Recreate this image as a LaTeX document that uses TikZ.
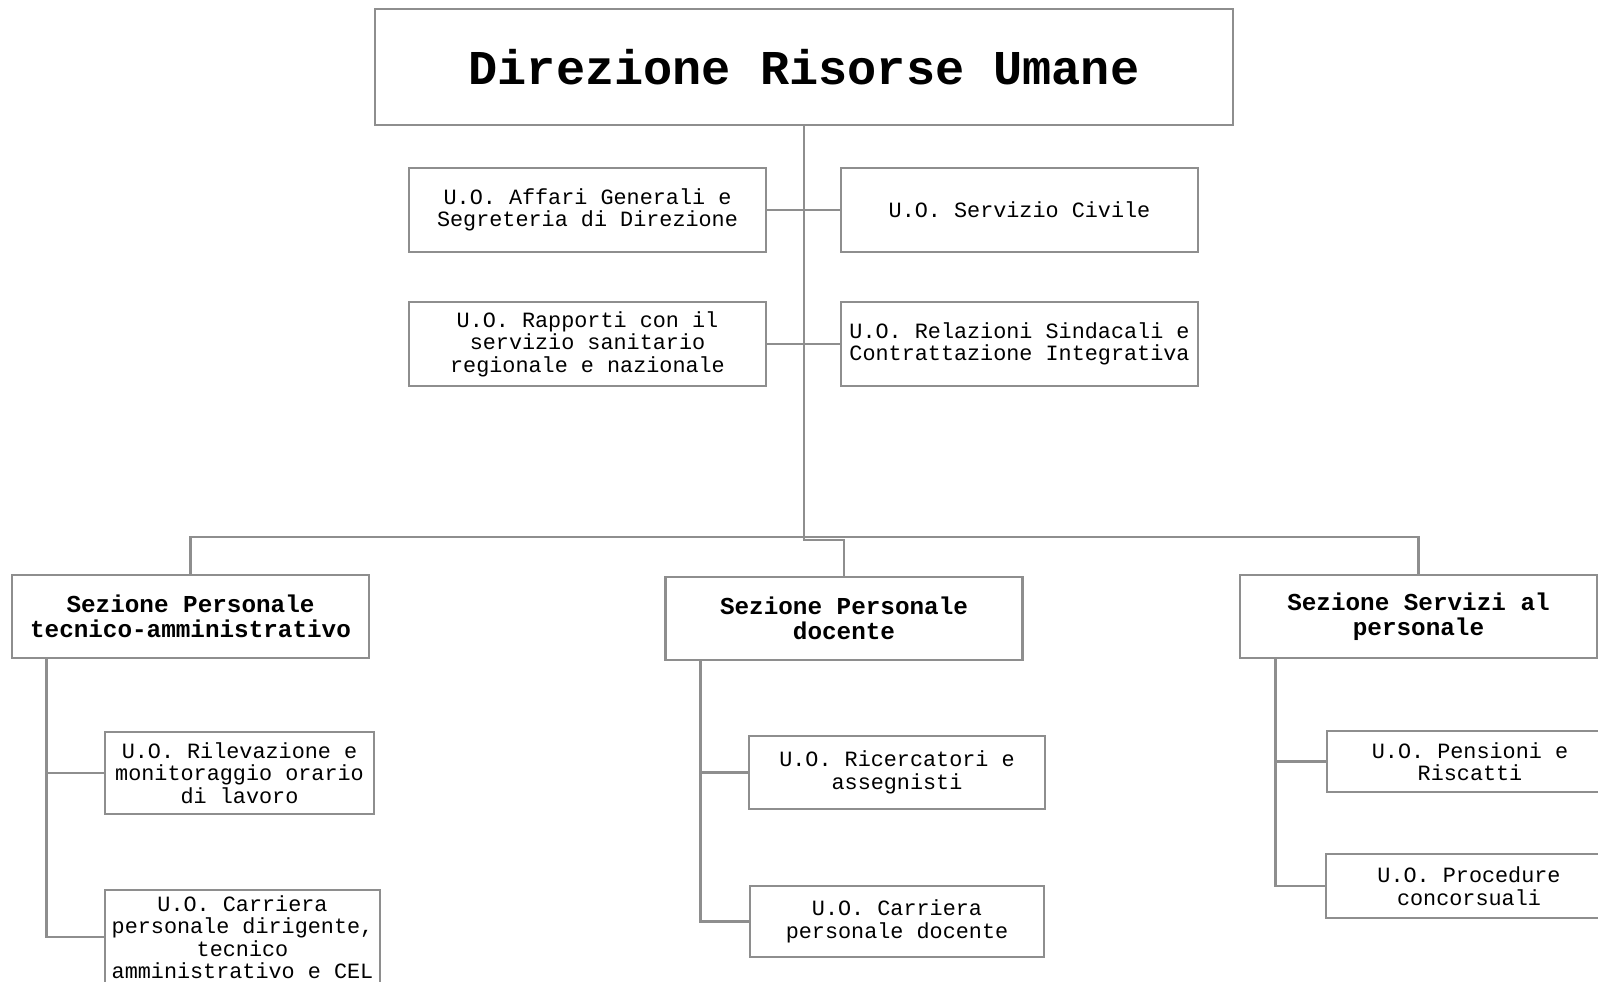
\documentclass[tikz,border=0pt]{standalone}
\usepackage{fontspec}
\setmonofont{Liberation Mono}

\definecolor{lineGray}{HTML}{8E8E8E}

\tikzstyle{topBox}=[shape=rectangle,draw=lineGray,line width=2.6pt,inner sep=0pt,align=center,minimum width=858pt,minimum height=116pt,font=\ttfamily\bfseries\fontsize{48.6}{50}\selectfont]
\tikzstyle{sectionBox}=[shape=rectangle,draw=lineGray,line width=2.6pt,inner sep=0pt,align=center,minimum width=357pt,minimum height=83pt,font=\ttfamily\bfseries\fontsize{24.3}{24.5}\selectfont]
\tikzstyle{unitBox}=[shape=rectangle,draw=lineGray,line width=2.6pt,inner sep=0pt,align=center,font=\ttfamily\fontsize{21.8}{22.4}\selectfont]
\tikzstyle{link}=[draw=lineGray,line width=2.6pt]

\begin{document}
\begin{tikzpicture}[x=1pt,y=-1pt]
        \useasboundingbox (0,0) rectangle (1598,982);

        % direction
        \node[topBox] (dir) at (804,67) {Direzione Risorse Umane};

        % staff units
        \node[unitBox,minimum width=357pt,minimum height=84pt] (affari) at (587.5,210) {U.O. Affari Generali e\\Segreteria di Direzione};
        \node[unitBox,minimum width=357pt,minimum height=84pt] (civile) at (1019.5,210) {U.O. Servizio Civile};
        \node[unitBox,minimum width=357pt,minimum height=84pt] (rapporti) at (587.5,344) {U.O. Rapporti con il\\servizio sanitario\\regionale e nazionale};
        \node[unitBox,minimum width=357pt,minimum height=84pt] (relazioni) at (1019.5,344) {U.O. Relazioni Sindacali e\\Contrattazione Integrativa};

        % sections
        \node[sectionBox] (sezPta) at (190.5,616.5) {Sezione Personale\\tecnico-amministrativo};
        \node[sectionBox] (sezDoc) at (844,618.5) {Sezione Personale\\docente};
        \node[sectionBox] (sezSer) at (1418.5,616.5) {Sezione Servizi al\\personale};

        % units of the sections
        \node[unitBox,minimum width=269pt,minimum height=82pt] (rilev) at (239.5,773) {U.O. Rilevazione e\\monitoraggio orario\\di lavoro};
        \node[unitBox,minimum width=275pt,minimum height=94pt] (carrPta) at (242.5,937) {U.O. Carriera\\personale dirigente,\\tecnico\\amministrativo e CEL};
        \node[unitBox,minimum width=296pt,minimum height=73pt] (ricerc) at (897,772.5) {U.O. Ricercatori e\\assegnisti};
        \node[unitBox,minimum width=294pt,minimum height=71pt] (carrDoc) at (897,921.5) {U.O. Carriera\\personale docente};
        \node[unitBox,minimum width=286pt,minimum height=61pt] (pension) at (1470,761.5) {U.O. Pensioni e\\Riscatti};
        \node[unitBox,minimum width=286pt,minimum height=64pt] (procedure) at (1469,886) {U.O. Procedure\\concorsuali};

        \coordinate (bus) at (804,537);
        \coordinate (jog) at (804,540);

        \draw [link] (dir.south) -- (jog) -| (sezDoc.north);
        \draw [link] (sezPta.north) |- (bus) -| (sezSer.north);

        \draw [link] (affari.east) to (civile.west);
        \draw [link] (rapporti.east) to (relazioni.west);

        \draw [link] ([xshift=36pt]sezPta.south west) |- (rilev.west);
        \draw [link] ([xshift=36pt]sezPta.south west) |- (carrPta.west);
        \draw [link] ([xshift=36pt]sezDoc.south west) |- (ricerc.west);
        \draw [link] ([xshift=36pt]sezDoc.south west) |- (carrDoc.west);
        \draw [link] ([xshift=37pt]sezSer.south west) |- (pension.west);
        \draw [link] ([xshift=37pt]sezSer.south west) |- (procedure.west);
    \end{tikzpicture}
\end{document}
